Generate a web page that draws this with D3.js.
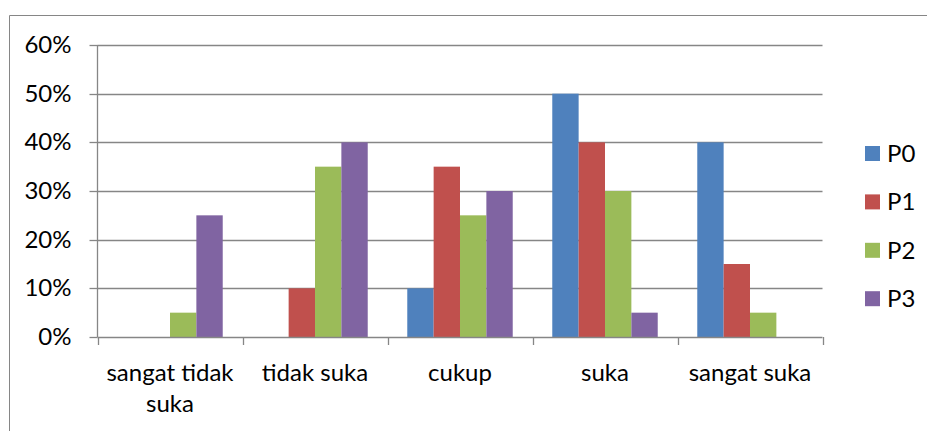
<!DOCTYPE html>
<html>
<head>
<meta charset="utf-8">
<script src="https://cdn.jsdelivr.net/npm/d3@7"></script>
<style>
  html, body { margin: 0; padding: 0; background: #fff; }
  svg { display: block; }
  text { font-family: Lato, "Open Sans", sans-serif; fill: #000; }
</style>
</head>
<body>
<svg id="chart" width="927" height="431"></svg>
<script>
const categories = ["sangat tidak suka", "tidak suka", "cukup", "suka", "sangat suka"];
const categoryLines = [["sangat tidak", "suka"], ["tidak suka"], ["cukup"], ["suka"], ["sangat suka"]];
const seriesNames = ["P0", "P1", "P2", "P3"];
const seriesColors = ["#4F81BD", "#C0504D", "#9BBB59", "#8064A2"];
const P0 = [0, 0, 0.10, 0.50, 0.40];
const P1 = [0, 0.10, 0.35, 0.40, 0.15];
const P2 = [0.05, 0.35, 0.25, 0.30, 0.05];
const P3 = [0.25, 0.40, 0.30, 0.05, 0];
const seriesValues = [P0, P1, P2, P3];
const yTicks = [0, 0.1, 0.2, 0.3, 0.4, 0.5, 0.6];

(function () {
const svg = d3.select("#chart");
const gridColor = "#868686";
const fontSize = 24;

// outer chart border
svg.append("path")
  .attr("d", "M9.5,440 L9.5,15.5 L940,15.5")
  .attr("fill", "none").attr("stroke", gridColor).attr("stroke-width", 1);

const pLeft = 97.5, pRight = 822.5, pTop = 45, pBottom = 337;
const x0 = d3.scaleBand().domain(categories).range([pLeft, pRight]).paddingInner(0).paddingOuter(0);
const x1 = d3.scaleBand().domain(seriesNames).range([0, x0.bandwidth()]).paddingInner(0).paddingOuter(0.75);
const y = d3.scaleLinear().domain([0, 0.6]).range([pBottom, pTop]);

// gridlines
svg.append("g").selectAll("line").data(yTicks.filter(d => d > 0)).join("line")
  .attr("x1", pLeft).attr("x2", pRight)
  .attr("y1", d => Math.round(y(d)) + 0.5).attr("y2", d => Math.round(y(d)) + 0.5)
  .attr("stroke", gridColor).attr("stroke-width", 1.3);

// bars
const groups = svg.append("g").selectAll("g").data(categories).join("g")
  .attr("transform", d => `translate(${x0(d)},0)`);
groups.selectAll("rect")
  .data((c, ci) => seriesNames.map((s, si) => ({ s, si, v: seriesValues[si][ci] })))
  .join("rect")
  .attr("x", d => x1(d.s))
  .attr("width", x1.bandwidth())
  .attr("y", d => y(d.v))
  .attr("height", d => pBottom - y(d.v))
  .attr("fill", d => seriesColors[d.si]);

// y axis
const yAxis = d3.axisLeft(y).tickValues(yTicks).tickFormat(d3.format(".0%")).tickSize(8).tickPadding(18);
const yg = svg.append("g").attr("transform", `translate(${pLeft},0)`).call(yAxis);
yg.attr("font-family", null).attr("font-size", null);
yg.select(".domain").attr("stroke", gridColor).attr("stroke-width", 1.3).attr("d", `M0,${pTop}V${pBottom}`);
yg.selectAll(".tick line").attr("stroke", gridColor).attr("stroke-width", 1.3);
yg.selectAll(".tick text").attr("font-size", fontSize).attr("fill", "#000");
yg.selectAll(".tick").attr("transform", d => `translate(0,${Math.round(y(d)) + 0.5})`);

// x axis
const xEdges = categories.map(c => x0(c)).concat([pRight]);
const xg = svg.append("g");
xg.append("line").attr("x1", pLeft).attr("x2", pRight).attr("y1", pBottom + 0.5).attr("y2", pBottom + 0.5)
  .attr("stroke", gridColor).attr("stroke-width", 1.3);
xg.selectAll("line.tick").data(xEdges).join("line").attr("class", "tick")
  .attr("x1", d => Math.round(d) + 0.5).attr("x2", d => Math.round(d) + 0.5)
  .attr("y1", pBottom).attr("y2", pBottom + 8)
  .attr("stroke", gridColor).attr("stroke-width", 1.3);
const labels = xg.selectAll("text").data(categories).join("text")
  .attr("text-anchor", "middle")
  .attr("font-size", fontSize)
  .attr("x", d => x0(d) + x0.bandwidth() / 2)
  .attr("y", 381);
labels.each(function(d, i) {
  const t = d3.select(this);
  categoryLines[i].forEach((line, li) => {
    t.append("tspan").attr("x", x0(d) + x0.bandwidth() / 2).attr("dy", li === 0 ? 0 : 31).text(line);
  });
});

// legend
const legend = svg.append("g").selectAll("g").data(seriesNames).join("g")
  .attr("transform", (d, i) => `translate(865,${146 + i * 48.4})`);
legend.append("rect").attr("width", 15).attr("height", 15).attr("fill", (d, i) => seriesColors[i]);
legend.append("text").attr("x", 22).attr("y", 16).attr("font-size", fontSize).text(d => d);
})();
</script>
</body>
</html>
